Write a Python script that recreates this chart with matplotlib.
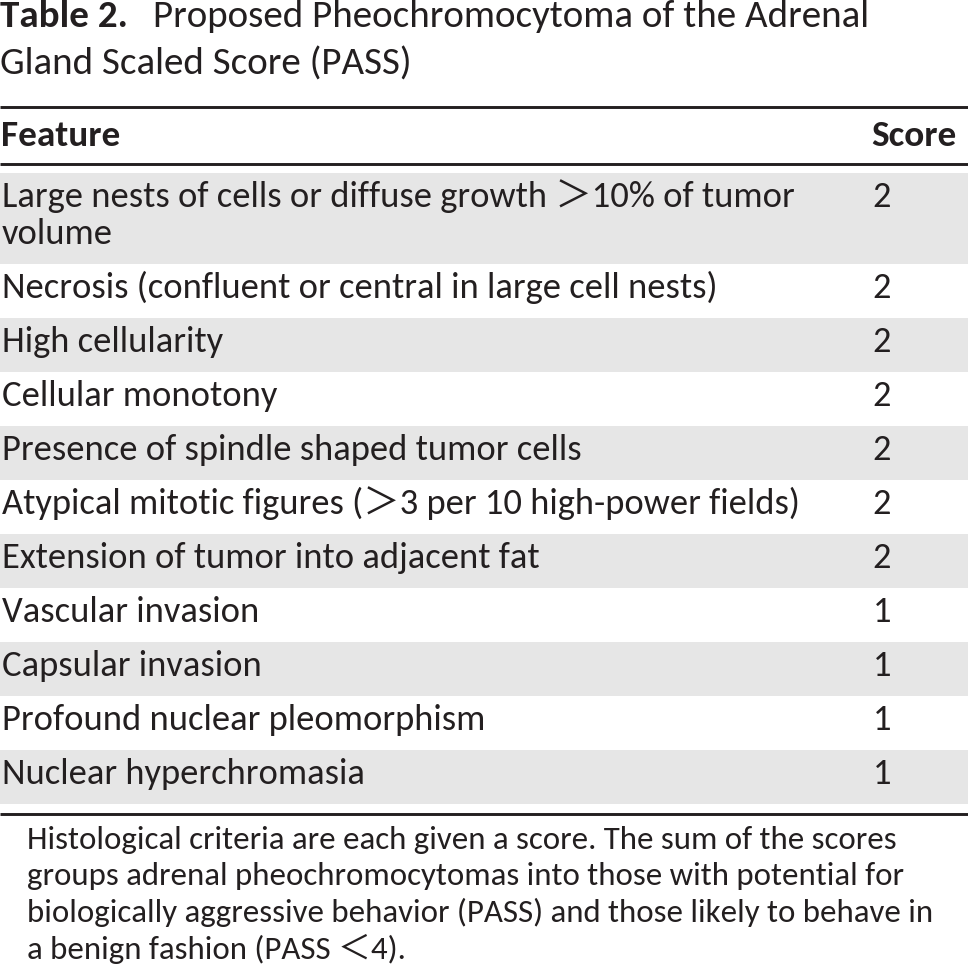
import matplotlib
matplotlib.use("Agg")
import matplotlib.pyplot as plt
from matplotlib import font_manager as fm
from matplotlib.patches import Rectangle

# ---------------- data ----------------
title_bold = "Table 2."
title_line1 = "Proposed Pheochromocytoma of the Adrenal"
title_line2 = "Gland Scaled Score (PASS)"
col_headers = ["Feature", "Score"]
features = [
    "Large nests of cells or diffuse growth \uff1e10% of tumor\nvolume",
    "Necrosis (confluent or central in large cell nests)",
    "High cellularity",
    "Cellular monotony",
    "Presence of spindle shaped tumor cells",
    "Atypical mitotic figures (\uff1e3 per 10 high-power fields)",
    "Extension of tumor into adjacent fat",
    "Vascular invasion",
    "Capsular invasion",
    "Profound nuclear pleomorphism",
    "Nuclear hyperchromasia",
]
scores = [2, 2, 2, 2, 2, 2, 2, 1, 1, 1, 1]
footnote_lines = [
    "Histological criteria are each given a score. The sum of the scores",
    "groups adrenal pheochromocytomas into those with potential for",
    "biologically aggressive behavior (PASS) and those likely to behave in",
    "a benign fashion (PASS \uff1c4).",
]

# ---------------- fonts ----------------
def pick(names):
    for n in names:
        try:
            fm.findfont(fm.FontProperties(family=n), fallback_to_default=False)
            return n
        except Exception:
            pass
    return "DejaVu Sans"

base = pick(["Carlito", "Lato"])
FAM = [base, "Noto Sans CJK SC", "DejaVu Sans"]
plt.rcParams["font.family"] = FAM

TXT = "#231f20"
SHADE = "#e6e6e6"
W, H = 968, 967

fig = plt.figure(figsize=(W / 100, H / 100), dpi=100)
ax = fig.add_axes([0, 0, 1, 1])
ax.set_xlim(0, W)
ax.set_ylim(H, 0)
ax.axis("off")

title_size = 28.1
head_size = 26.8
row_size = 26.3
foot_size = 23.7

# ---------------- title ----------------
ax.text(0, 27, title_bold, fontsize=title_size, fontweight="bold", color=TXT, va="baseline", ha="left")
ax.text(153, 27, title_line1, fontsize=title_size, color=TXT, va="baseline", ha="left")
ax.text(0, 75, title_line2, fontsize=title_size, color=TXT, va="baseline", ha="left")

# ---------------- rules ----------------
def rule(y):
    ax.plot([0, W], [y, y], color=TXT, lw=2.1, solid_capstyle="butt")

rule(107)
rule(164)
rule(814)

# header
ax.text(1, 146, col_headers[0], fontsize=head_size, fontweight="bold", color=TXT, va="baseline", ha="left")
ax.text(957, 146, col_headers[1], fontsize=head_size, fontweight="bold", color=TXT, va="baseline", ha="right")

# ---------------- rows ----------------
top = 173
row_h = 54
extra_line = 36.5
base_off = 34
score_x = 882
for i, (feat, sc) in enumerate(zip(features, scores)):
    nlines = feat.count("\n") + 1
    h = row_h + (nlines - 1) * extra_line
    if i % 2 == 0:
        ax.add_patch(Rectangle((0, top), W, h, facecolor=SHADE, edgecolor="none", zorder=0))
    for j, line in enumerate(feat.split("\n")):
        ax.text(2, top + base_off + j * extra_line, line, fontsize=row_size, color=TXT,
                va="baseline", ha="left")
    ax.text(score_x, top + base_off, str(sc), fontsize=row_size, color=TXT, va="baseline", ha="center")
    top += h

# ---------------- footnote ----------------
for k, line in enumerate(footnote_lines):
    ax.text(27, 849 + k * 36.5, line, fontsize=foot_size, color=TXT, va="baseline", ha="left")

fig.savefig("out.png", dpi=100)
